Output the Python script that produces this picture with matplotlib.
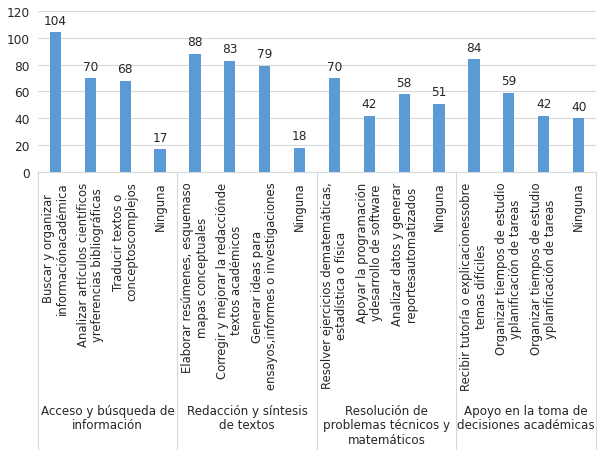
import matplotlib.pyplot as plt
import numpy as np

# Data
categories = [
    "Buscar y organizar\ninformaciónacadémica",
    "Analizar artículos científicos\nyreferencias bibliográficas",
    "Traducir textos o\nconceptoscomplejos",
    "Ninguna",
    "Elaborar resúmenes, esquemaso\nmapas conceptuales",
    "Corregir y mejorar la redacciónde\ntextos académicos",
    "Generar ideas para\nensayos,informes o investigaciones",
    "Ninguna",
    "Resolver ejercicios dematemáticas,\nestadística o física",
    "Apoyar la programación\nydesarrollo de software",
    "Analizar datos y generar\nreportesautomatizados",
    "Ninguna",
    "Recibir tutoría o explicacionessobre\ntemas difíciles",
    "Organizar tiempos de estudio\nyplanificación de tareas",
    "Organizar tiempos de estudio\nyplanificación de tareas",
    "Ninguna",
]
values = [104, 70, 68, 17, 88, 83, 79, 18, 70, 42, 58, 51, 84, 59, 42, 40]
groups = [
    "Acceso y búsqueda de\ninformación",
    "Redacción y síntesis\nde textos",
    "Resolución de\nproblemas técnicos y\nmatemáticos",
    "Apoyo en la toma de\ndecisiones académicas",
]
group_sizes = [4, 4, 4, 4]

text_color = '#262626'
line_color = '#d9d9d9'

fig = plt.figure(figsize=(6.06, 4.52), dpi=100)
ax = fig.add_axes([0.0627, 0.6173, 0.9208, 0.3562])

x = np.arange(len(values))
bars = ax.bar(x, values, width=0.32, color='#5B9BD5', zorder=3)
for xi, v in zip(x, values):
    ax.annotate(str(v), (xi, v), xytext=(0, 4), textcoords='offset points',
                ha='center', va='bottom', fontsize=8.7, color=text_color)

ax.set_xlim(-0.5, len(values) - 0.5)
ax.set_ylim(0, 120)
ax.set_yticks(range(0, 121, 20))
ax.yaxis.grid(True, color=line_color, linewidth=0.8, zorder=0)
ax.tick_params(axis='y', length=0, labelsize=8.7, labelcolor=text_color, pad=6)

ax.set_xticks(x)
ax.set_xticklabels(categories, rotation=90, fontsize=8.4, color=text_color,
                   multialignment='center', linespacing=1.12)
ax.tick_params(axis='x', length=0, pad=7)

for side in ['top', 'right', 'left']:
    ax.spines[side].set_visible(False)
ax.spines['bottom'].set_color(line_color)

# group separators and group labels below the tick labels
trans = ax.get_xaxis_transform()
edges = np.concatenate([[0], np.cumsum(group_sizes)]) - 0.5
for e in edges:
    ax.plot([e, e], [0, -1.72], transform=trans, color=line_color,
            linewidth=0.8, clip_on=False)
for i, g in enumerate(groups):
    centre = (edges[i] + edges[i + 1]) / 2
    ax.text(centre, -1.44, g, transform=trans, ha='center', va='top',
            fontsize=8.6, color=text_color, linespacing=1.15)

fig.savefig('out.png', dpi=100)
